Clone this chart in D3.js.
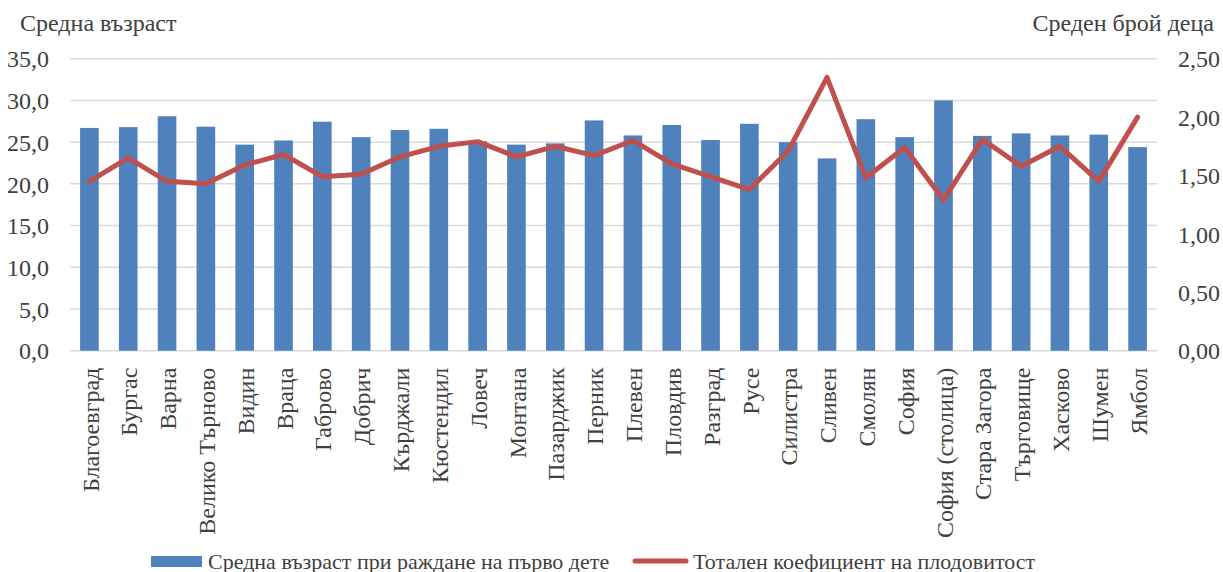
<!DOCTYPE html>
<html><head><meta charset="utf-8">
<script src="https://cdn.jsdelivr.net/npm/d3@7"></script>
<style>body{margin:0;background:#fff}svg{display:block}</style>
</head><body><svg id="c" width="1223" height="572" font-family="'Liberation Serif', 'Times New Roman', serif"></svg>
<script>
const categories = ["Благоевград","Бургас","Варна","Велико Търново","Видин","Враца","Габрово","Добрич","Кърджали","Кюстендил","Ловеч","Монтана","Пазарджик","Перник","Плевен","Пловдив","Разград","Русе","Силистра","Сливен","Смолян","София","София (столица)","Стара Загора","Търговище","Хасково","Шумен","Ямбол"];
const ageValues = [26.7,26.8,28.1,26.85,24.7,25.2,27.45,25.6,26.45,26.6,25.1,24.7,24.85,27.6,25.8,27.05,25.25,27.2,25.0,23.05,27.75,25.6,30.0,25.75,26.05,25.8,25.9,24.4];
const tfrValues = [1.45,1.65,1.45,1.43,1.59,1.68,1.49,1.51,1.66,1.75,1.79,1.66,1.75,1.67,1.80,1.60,1.49,1.38,1.71,2.34,1.48,1.74,1.29,1.81,1.58,1.75,1.45,2.00];
const leftTicks = [0,5,10,15,20,25,30,35];
const rightTicks = [0,0.5,1,1.5,2,2.5];
const leftTitle = "Средна възраст";
const rightTitle = "Среден брой деца";
const seriesNames = ["Средна възраст при раждане на първо дете","Тотален коефициент на плодовитост"];

const FONT = "'Liberation Serif', 'Times New Roman', serif";
const TXT = "#404040";
const svg = d3.select("#c");
const L = 70, R = 1157, T = 58.7, B = 350.7;
const x = d3.scaleBand().domain(categories).range([L, R]).paddingInner(0.52).paddingOuter(0.26);
const yL = d3.scaleLinear().domain([0,35]).range([B,T]);
const yR = d3.scaleLinear().domain([0,2.5]).range([B,T]);
const fmt1 = d3.format(".1f"), fmt2 = d3.format(".2f");
const comma = s => s.replace(".", ",");

// gridlines
svg.append("g").selectAll("line").data(leftTicks).join("line")
  .attr("x1", L).attr("x2", R).attr("y1", d => yL(d)).attr("y2", d => yL(d))
  .attr("stroke", "#d9d9d9").attr("stroke-width", 1.5);

// left axis
const ga = svg.append("g").attr("transform", `translate(${L},0)`)
  .call(d3.axisLeft(yL).tickValues(leftTicks).tickFormat(d => comma(fmt1(d))).tickSize(0).tickPadding(21))
  .attr("font-family", FONT).attr("font-size", 24);
ga.select(".domain").remove();
ga.selectAll("text").attr("fill", TXT).attr("dy", "0.34em");

const gr = svg.append("g").attr("transform", `translate(${R},0)`)
  .call(d3.axisRight(yR).tickValues(rightTicks).tickFormat(d => comma(fmt2(d))).tickSize(0).tickPadding(21))
  .attr("font-family", FONT).attr("font-size", 24);
gr.select(".domain").remove();
gr.selectAll("text").attr("fill", TXT).attr("dy", "0.34em");

// bars
svg.append("g").selectAll("rect").data(categories).join("rect")
  .attr("x", d => x(d)).attr("width", x.bandwidth())
  .attr("y", (d,i) => yL(ageValues[i])).attr("height", (d,i) => B - yL(ageValues[i]))
  .attr("fill", "#4f81bd");

// line
const line = d3.line().x((d,i) => x(categories[i]) + x.bandwidth()/2).y(d => yR(d));
svg.append("path").datum(tfrValues).attr("d", line)
  .attr("fill","none").attr("stroke","#c0504d").attr("stroke-width",5).attr("stroke-linejoin","round").attr("stroke-linecap","round");

// category labels
const gx = svg.append("g").attr("transform", `translate(0,${B})`)
  .call(d3.axisBottom(x).tickSize(0))
  .attr("font-family", FONT).attr("font-size", 24);
gx.select(".domain").remove();
gx.selectAll("text").attr("transform","rotate(-90)").attr("text-anchor","end")
  .attr("x", -17).attr("y", 0).attr("dy","0.38em").attr("fill", TXT);

// titles
svg.append("text").attr("x", 20).attr("y", 31).attr("font-size",24).attr("fill",TXT).text(leftTitle);
svg.append("text").attr("x", 1214).attr("y", 31).attr("text-anchor","end").attr("font-size",24).attr("fill",TXT).text(rightTitle);

// legend
const lg = svg.append("g");
lg.append("rect").attr("x",151).attr("y",556).attr("width",51).attr("height",11).attr("fill","#4f81bd");
lg.append("text").attr("x",208).attr("y",568.5).attr("font-size",22).attr("fill",TXT).text(seriesNames[0]);
lg.append("line").attr("x1",635).attr("x2",686).attr("y1",561).attr("y2",561).attr("stroke","#c0504d").attr("stroke-width",5).attr("stroke-linecap","round");
lg.append("text").attr("x",693).attr("y",568.5).attr("font-size",22).attr("fill",TXT).text(seriesNames[1]);
</script></body></html>
